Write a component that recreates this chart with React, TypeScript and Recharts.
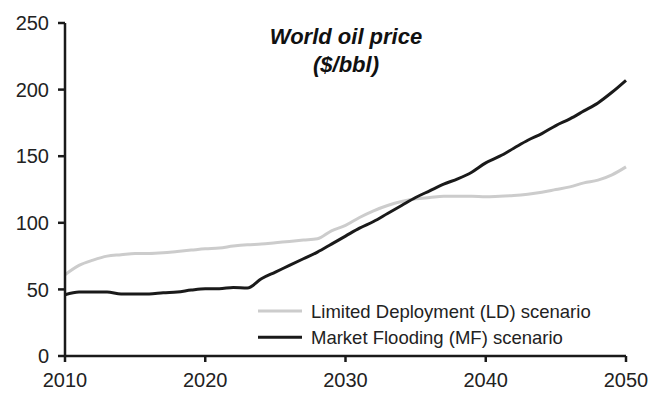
import React from 'react'
import { LineChart, Line, XAxis, YAxis } from 'recharts'

const YEARS = [
  2010, 2011, 2012, 2013, 2014, 2015, 2016, 2017, 2018, 2019,
  2020, 2021, 2022, 2023, 2024, 2025, 2026, 2027, 2028, 2029,
  2030, 2031, 2032, 2033, 2034, 2035, 2036, 2037, 2038, 2039,
  2040, 2041, 2042, 2043, 2044, 2045, 2046, 2047, 2048, 2049, 2050,
]

// Limited Deployment (LD) scenario, $/bbl
const LD = [
  61, 68, 72, 75, 76, 77, 77, 77.5, 78.5, 79.5,
  80.5, 81, 82.5, 83.5, 84, 85, 86, 87, 88, 94,
  98, 104, 109, 113, 116, 118, 119, 120, 120, 120,
  119.5, 120, 120.5, 121.5, 123, 125, 127, 130, 132, 136, 142,
]

// Market Flooding (MF) scenario, $/bbl
const MF = [
  46, 48, 48, 48, 46.5, 46.5, 46.5, 47.5, 48, 49.5,
  50.5, 50.5, 51.5, 51, 58, 63, 68, 73, 78, 84,
  90, 96, 101, 107, 113, 119, 124, 129, 133, 138,
  145, 150, 156, 162, 167, 173, 178, 184, 190, 198, 207,
]

const SERIES_NAMES = ['Limited Deployment (LD) scenario', 'Market Flooding (MF) scenario']

const X_TICKS = [2010, 2020, 2030, 2040, 2050]
const Y_TICKS = [0, 50, 100, 150, 200, 250]

const FONT = '"Liberation Sans", Arial, sans-serif'
const GREY = '#cccccc'
const BLACK = '#1a1a1a'
const SERIES_COLORS = [GREY, BLACK]

const data = YEARS.map((year, i) => ({ year, ld: LD[i], mf: MF[i] }))

// legend sits inside the plot, bottom-right, so it is drawn as an overlay
function ScenarioLegend() {
  return (
    <svg
      width={340}
      height={56}
      style={{ position: 'absolute', left: 255, top: 300, display: 'block' }}
    >
      {SERIES_NAMES.map((name, i) => (
        <g key={name}>
          <line x1={3} x2={47} y1={11 + i * 26.3} y2={11 + i * 26.3} stroke={SERIES_COLORS[i]} strokeWidth={3} />
          <text x={56} y={17.7 + i * 26.5} fontSize={18.5} fontFamily={FONT} fill="#222">
            {name}
          </text>
        </g>
      ))}
    </svg>
  )
}

export default function App() {
  return (
    <div style={{ position: 'absolute', left: 0, top: 0, width: 662, height: 393, background: '#fff' }}>
      <LineChart
        width={662}
        height={393}
        data={data}
        margin={{ top: 23, right: 36, left: 5, bottom: 0 }}
      >
        <XAxis
          dataKey="year"
          type="number"
          domain={[2010, 2050]}
          ticks={X_TICKS}
          height={37}
          tickSize={6}
          tickMargin={11}
          stroke={BLACK}
          strokeWidth={2.5}
          tick={{ fontSize: 20, fontFamily: FONT, fill: '#222' }}
        />
        <YAxis
          type="number"
          domain={[0, 250]}
          ticks={Y_TICKS}
          width={60}
          tickSize={7}
          tickMargin={9}
          stroke={BLACK}
          strokeWidth={2.5}
          tick={{ fontSize: 20, fontFamily: FONT, fill: '#222' }}
        />
        <Line
          dataKey="ld"
          name={SERIES_NAMES[0]}
          stroke={GREY}
          strokeWidth={3}
          dot={false}
          type="monotone"
          isAnimationActive={false}
        />
        <Line
          dataKey="mf"
          name={SERIES_NAMES[1]}
          stroke={BLACK}
          strokeWidth={3}
          dot={false}
          type="monotone"
          isAnimationActive={false}
        />
      </LineChart>
      <ScenarioLegend />
      <div
        style={{
          position: 'absolute',
          left: 246,
          top: 23,
          width: 200,
          textAlign: 'center',
          fontFamily: FONT,
          fontSize: 22,
          fontWeight: 'bold',
          fontStyle: 'italic',
          lineHeight: '28px',
          color: '#111',
        }}
      >
        World oil price
        <br />
        ($/bbl)
      </div>
    </div>
  )
}
